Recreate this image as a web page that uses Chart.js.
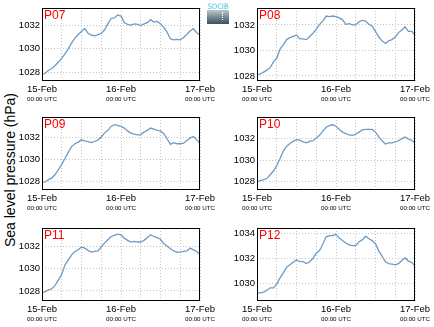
<!DOCTYPE html>
<html>
<head>
<meta charset="utf-8">
<script src="https://cdn.jsdelivr.net/npm/chart.js@4.4.0/dist/chart.umd.min.js"></script>
<style>
  html, body { margin: 0; padding: 0; background: #fff; }
  body { width: 434px; height: 327px; position: relative; overflow: hidden;
         font-family: "Liberation Sans", Arial, sans-serif; }
  canvas { position: absolute; }
  .ytitle { position: absolute; left: 10px; top: 170px; font-size: 14px; color: #000;
            white-space: nowrap; transform: translate(-50%, -50%) rotate(-90deg); }
  .logo { position: absolute; left: 207px; top: 3px; width: 22px; }
  .logo-txt { font: 7.5px "DejaVu Sans Condensed", "DejaVu Sans", sans-serif; color: #35c4de;
              line-height: 7px; height: 7px; text-align: center; letter-spacing: 0; }
  .logo-box { position: relative; height: 14px; background: linear-gradient(#b9c9ce, #7d939b 45%, #3a4f5c); }
  .logo-box i { position: absolute; left: 15px; top: 2px; height: 8px; border-left: 1px dotted #fff; }
</style>
</head>
<body>
<div class="ytitle">Sea level pressure (hPa)</div>
<div class="logo"><div class="logo-txt">SOCIB</div><div class="logo-box"><i></i></div></div>

<script>
// Hours since 15-Feb 00:00 UTC
const hours = [0, 1, 2, 3, 4, 5, 6, 7, 8, 9, 10, 11, 12, 13, 14, 15, 16, 17, 18, 19, 20,
               21, 22, 23, 24, 25, 26, 27, 28, 29, 30, 31, 32, 33, 34, 35, 36, 37, 38, 39,
               40, 41, 42, 43, 44, 45, 46, 47, 48];

// Hourly sea level pressure (hPa) per station
const p07 = [1027.85, 1027.95, 1028.2, 1028.35, 1028.6, 1028.9, 1029.2, 1029.6, 1030.0, 1030.5,
             1030.9, 1031.2, 1031.45, 1031.7, 1031.3, 1031.15, 1031.1, 1031.2, 1031.3, 1031.6,
             1032.1, 1032.55, 1032.6, 1032.85, 1032.75, 1032.2, 1032.05, 1032.0, 1032.1, 1032.05,
             1031.95, 1032.1, 1032.2, 1032.45, 1032.25, 1032.3, 1032.1, 1031.8, 1031.4, 1030.85,
             1030.75, 1030.8, 1030.75, 1030.95, 1031.2, 1031.5, 1031.7, 1031.35, 1031.15];
const p08 = [1028.1, 1028.15, 1028.3, 1028.45, 1028.65, 1029.1, 1029.4, 1030.1, 1030.45, 1030.85,
             1031.0, 1031.1, 1031.2, 1030.9, 1030.9, 1030.85, 1031.1, 1031.35, 1031.65, 1032.05,
             1032.3, 1032.7, 1032.65, 1032.7, 1032.65, 1032.55, 1032.4, 1032.05, 1032.1, 1032.0,
             1032.0, 1032.25, 1032.35, 1032.3, 1032.05, 1031.9, 1031.5, 1031.05, 1030.75, 1030.55,
             1030.75, 1030.85, 1031.05, 1031.4, 1031.6, 1031.85, 1031.5, 1031.5, 1031.2];
const p09 = [1027.95, 1028.0, 1028.2, 1028.35, 1028.65, 1029.1, 1029.55, 1030.1, 1030.65, 1031.15,
             1031.4, 1031.55, 1031.75, 1031.65, 1031.6, 1031.5, 1031.6, 1031.75, 1032.0, 1032.35,
             1032.6, 1032.95, 1033.1, 1033.05, 1032.95, 1032.8, 1032.55, 1032.35, 1032.25, 1032.2,
             1032.2, 1032.45, 1032.6, 1032.8, 1032.7, 1032.6, 1032.55, 1032.3, 1031.85, 1031.35,
             1031.5, 1031.4, 1031.4, 1031.45, 1031.7, 1031.9, 1032.05, 1031.75, 1031.45];
const p10 = [1028.0, 1028.1, 1028.2, 1028.3, 1028.65, 1029.0, 1029.5, 1030.15, 1030.85, 1031.3,
             1031.55, 1031.75, 1031.9, 1031.85, 1031.7, 1031.6, 1031.75, 1031.8, 1032.05, 1032.3,
             1032.7, 1033.05, 1033.2, 1033.3, 1033.15, 1032.85, 1032.6, 1032.45, 1032.35, 1032.3,
             1032.4, 1032.6, 1032.8, 1032.85, 1032.85, 1032.85, 1032.6, 1032.15, 1031.8, 1031.5,
             1031.6, 1031.6, 1031.7, 1031.8, 1032.0, 1032.15, 1031.95, 1031.85, 1031.6];
const p11 = [1027.85, 1027.95, 1028.1, 1028.2, 1028.5, 1029.0, 1029.5, 1030.35, 1030.8, 1031.25,
             1031.55, 1031.7, 1031.95, 1031.85, 1031.65, 1031.5, 1031.55, 1031.6, 1031.95, 1032.3,
             1032.6, 1032.9, 1033.0, 1033.1, 1033.05, 1032.75, 1032.55, 1032.4, 1032.45, 1032.4,
             1032.4, 1032.55, 1032.8, 1033.05, 1032.9, 1032.8, 1032.65, 1032.25, 1032.05, 1031.8,
             1031.6, 1031.5, 1031.5, 1031.55, 1031.6, 1031.85, 1031.7, 1031.55, 1031.25];
const p12 = [1029.25, 1029.25, 1029.3, 1029.45, 1029.65, 1029.65, 1029.95, 1030.45, 1030.85, 1031.3,
             1031.5, 1031.7, 1031.9, 1031.75, 1031.75, 1031.6, 1031.75, 1032.0, 1032.45, 1032.65,
             1033.15, 1033.75, 1033.85, 1033.85, 1033.95, 1033.65, 1033.45, 1033.25, 1033.1, 1033.05,
             1033.05, 1033.35, 1033.5, 1033.8, 1033.6, 1033.45, 1033.2, 1032.6, 1032.2, 1031.75,
             1031.6, 1031.55, 1031.5, 1031.6, 1031.85, 1032.05, 1031.8, 1031.7, 1031.4];

const stationNames = ['P07', 'P08', 'P09', 'P10', 'P11', 'P12'];
const stationSeries = [p07, p08, p09, p10, p11, p12];

// Pressure axis ranges and tick labels per station
const yMins = [1027.3, 1027.6, 1027.27, 1027.24, 1027.1, 1028.59];
const yMaxs = [1033.43, 1033.33, 1033.79, 1034.0, 1033.66, 1034.46];
const yTicksLow = [1028, 1030, 1032];
const yTicksHigh = [1030, 1032, 1034];
const yTickSets = [yTicksLow, yTicksLow, yTicksLow, yTicksLow, yTicksLow, yTicksHigh];

// Time axis: grid every 6 h, labels at each midnight
const hourTicks = [0, 6, 12, 18, 24, 30, 36, 42, 48];
const dayLabels = ['15-Feb', '16-Feb', '17-Feb'];
const timeLabel = '00:00 UTC';

// Panel grid (plot-area corners)
const colLeft = [42, 257];
const rowTop = [8, 117, 228];
const plotW = 158, plotH = 73;
const padL = 42, padT = 8, padR = 19, axisH1 = 14, axisH2 = 14;

const FONT = '"Liberation Sans", Arial, sans-serif';
const LINE_COLOR = '#6e9bc5';
const GRID_COLOR = '#c4c4c4';

const framePlugin = {
  id: 'frame',
  afterDraw(chart) {
    const { ctx, chartArea: a } = chart;
    ctx.save();
    ctx.strokeStyle = '#000';
    ctx.lineWidth = 1;
    ctx.strokeRect(a.left + 0.5, a.top + 0.5, a.right - a.left - 1, a.bottom - a.top - 1);
    ctx.restore();
  }
};

const stationLabelPlugin = {
  id: 'stationLabel',
  afterDatasetsDraw(chart, args, opts) {
    const { ctx, chartArea: a } = chart;
    ctx.save();
    ctx.fillStyle = '#ff0000';
    ctx.font = '12px ' + FONT;
    ctx.textBaseline = 'top';
    ctx.textAlign = 'left';
    ctx.fillText(opts.text, a.left + 2, a.top + 2);
    ctx.restore();
  }
};

stationNames.forEach((name, i) => {
  const col = i % 2, row = Math.floor(i / 2);
  const canvas = document.createElement('canvas');
  const w = padL + plotW + padR, h = padT + plotH + axisH1 + axisH2;
  canvas.width = w; canvas.height = h;
  canvas.style.width = w + 'px'; canvas.style.height = h + 'px';
  canvas.style.left = (colLeft[col] - padL) + 'px';
  canvas.style.top = (rowTop[row] - padT) + 'px';
  document.body.appendChild(canvas);

  const series = stationSeries[i];
  const setHourTicks = s => { s.ticks = hourTicks.map(v => ({ value: v })); };

  new Chart(canvas, {
    type: 'line',
    data: {
      datasets: [{
        data: hours.map((hr, k) => ({ x: hr, y: series[k] })),
        borderColor: LINE_COLOR,
        borderWidth: 1.3,
        pointRadius: 0,
        tension: 0,
        fill: false
      }]
    },
    options: {
      responsive: false,
      animation: false,
      devicePixelRatio: 1,
      layout: { padding: { left: 0, top: padT, right: padR, bottom: 0 } },
      plugins: {
        legend: { display: false },
        tooltip: { enabled: false },
        stationLabel: { text: name }
      },
      scales: {
        x: {
          type: 'linear', position: 'bottom', min: 0, max: 48,
          afterBuildTicks: setHourTicks,
          afterFit: s => { s.height = axisH1; },
          grid: { color: GRID_COLOR, lineWidth: 1, drawTicks: false },
          border: { display: false, dash: [1, 2] },
          ticks: {
            autoSkip: false, maxRotation: 0, padding: 3, color: '#000',
            font: { size: 9.5, family: FONT },
            callback: v => (v % 24 === 0 ? dayLabels[v / 24] : '')
          }
        },
        x2: {
          type: 'linear', position: 'bottom', min: 0, max: 48,
          afterBuildTicks: setHourTicks,
          afterFit: s => { s.height = axisH2; },
          grid: { display: false, drawTicks: false },
          border: { display: false },
          ticks: {
            autoSkip: false, maxRotation: 0, padding: 1, color: '#000',
            font: { size: 6.2, family: FONT },
            callback: v => (v % 24 === 0 ? timeLabel : '')
          }
        },
        y: {
          type: 'linear', min: yMins[i], max: yMaxs[i],
          afterBuildTicks: s => { s.ticks = yTickSets[i].map(v => ({ value: v })); },
          afterFit: s => { s.width = padL; },
          grid: { color: GRID_COLOR, lineWidth: 1, drawTicks: false },
          border: { display: false, dash: [1, 2] },
          ticks: {
            padding: 2, color: '#000',
            font: { size: 9.5, family: FONT },
            callback: v => String(v)
          }
        }
      }
    },
    plugins: [framePlugin, stationLabelPlugin]
  });
});
</script>
</body>
</html>
